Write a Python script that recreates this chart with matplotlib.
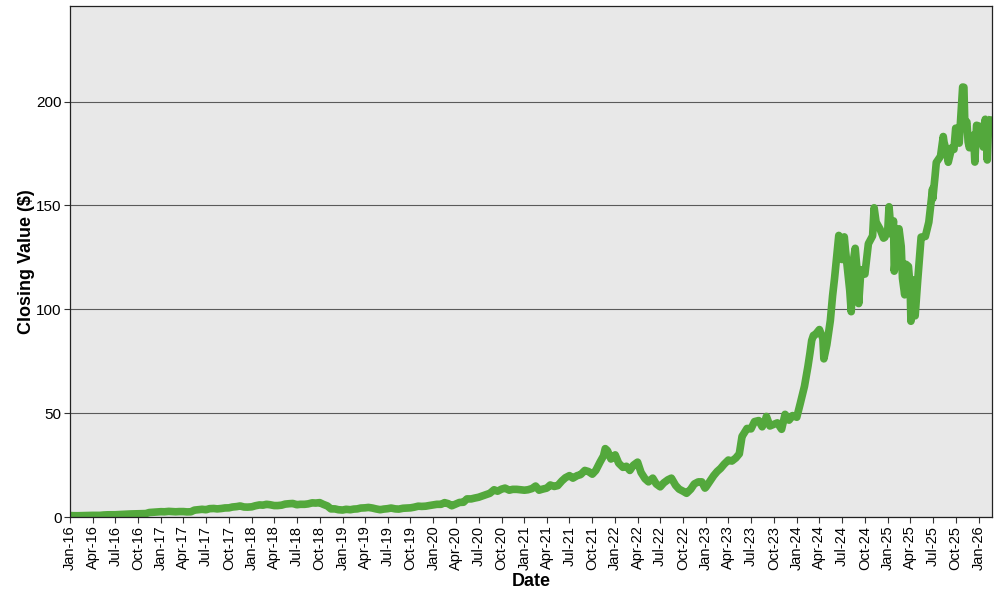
"""Closing value line chart, Jan 2016 - Feb 2026."""

import matplotlib

matplotlib.use("Agg")
import matplotlib.dates as mdates
import matplotlib.pyplot as plt
import pandas as pd

plt.rcParams["font.family"] = ["Liberation Sans", "DejaVu Sans"]

# semi-monthly closes (split adjusted), extra points in busy stretches
dates_2016_2020 = [
    "2016-01-01", "2016-01-15", "2016-02-01", "2016-02-15", "2016-03-01", "2016-03-15",
    "2016-04-01", "2016-04-15", "2016-05-01", "2016-05-15", "2016-06-01", "2016-06-15",
    "2016-07-01", "2016-07-15", "2016-08-01", "2016-08-15", "2016-09-01", "2016-09-15",
    "2016-10-01", "2016-10-15", "2016-11-01", "2016-11-15", "2016-12-01", "2016-12-15",
    "2017-01-01", "2017-01-15", "2017-02-01", "2017-02-15", "2017-03-01", "2017-03-15",
    "2017-04-01", "2017-04-15", "2017-05-01", "2017-05-15", "2017-06-01", "2017-06-15",
    "2017-07-01", "2017-07-15", "2017-08-01", "2017-08-15", "2017-09-01", "2017-09-15",
    "2017-10-01", "2017-10-15", "2017-11-01", "2017-11-15", "2017-12-01", "2017-12-15",
    "2018-01-01", "2018-01-15", "2018-02-01", "2018-02-15", "2018-03-01", "2018-03-15",
    "2018-04-01", "2018-04-15", "2018-05-01", "2018-05-15", "2018-06-01", "2018-06-15",
    "2018-07-01", "2018-07-15", "2018-08-01", "2018-08-15", "2018-09-01", "2018-09-15",
    "2018-10-01", "2018-10-15", "2018-11-01", "2018-11-15", "2018-12-01", "2018-12-15",
    "2019-01-01", "2019-01-15", "2019-02-01", "2019-02-15", "2019-03-01", "2019-03-15",
    "2019-04-01", "2019-04-15", "2019-05-01", "2019-05-15", "2019-06-01", "2019-06-15",
    "2019-07-01", "2019-07-15", "2019-08-01", "2019-08-15", "2019-09-01", "2019-09-15",
    "2019-10-01", "2019-10-15", "2019-11-01", "2019-11-15", "2019-12-01", "2019-12-15",
    "2020-01-01", "2020-01-15", "2020-02-01", "2020-02-15", "2020-03-01", "2020-03-15",
    "2020-04-01", "2020-04-15", "2020-05-01", "2020-05-15", "2020-06-01", "2020-06-15",
    "2020-07-01", "2020-07-15", "2020-08-01", "2020-08-15", "2020-09-01", "2020-09-15",
    "2020-10-01", "2020-10-15", "2020-11-01", "2020-11-15", "2020-12-01", "2020-12-15",
]
closes_2016_2020 = [
    0.80, 0.72, 0.70, 0.75, 0.82, 0.85, 0.88, 0.90, 0.88, 1.05, 1.15, 1.15,
    1.18, 1.27, 1.40, 1.45, 1.55, 1.60, 1.70, 1.68, 1.75, 2.25, 2.40, 2.55,
    2.65, 2.60, 2.80, 2.70, 2.60, 2.70, 2.70, 2.55, 2.60, 3.40, 3.60, 3.80,
    3.60, 4.10, 4.20, 4.00, 4.20, 4.45, 4.50, 4.90, 5.10, 5.40, 4.90, 4.85,
    5.00, 5.50, 5.90, 5.80, 6.20, 6.00, 5.60, 5.60, 5.80, 6.30, 6.50, 6.60,
    6.00, 6.20, 6.20, 6.40, 6.90, 6.80, 7.00, 6.20, 5.40, 4.00, 4.00, 3.60,
    3.45, 3.80, 3.60, 3.90, 4.00, 4.40, 4.50, 4.70, 4.40, 4.00, 3.60, 3.90,
    4.10, 4.40, 4.00, 3.90, 4.30, 4.40, 4.50, 4.80, 5.30, 5.20, 5.30, 5.60,
    5.90, 6.20, 6.20, 7.00, 6.50, 5.50, 6.40, 7.10, 7.20, 8.80, 8.80, 9.20,
    9.60, 10.2, 10.9, 11.5, 13.2, 12.5, 13.5, 14.0, 13.0, 13.4, 13.4, 13.2,
]

dates_2021_2023 = [
    "2021-01-01", "2021-01-15", "2021-02-01", "2021-02-15", "2021-03-01", "2021-03-15",
    "2021-04-01", "2021-04-15", "2021-05-01", "2021-05-15", "2021-06-01", "2021-06-15",
    "2021-07-01", "2021-07-15", "2021-08-01", "2021-08-15", "2021-09-01", "2021-09-15",
    "2021-10-01", "2021-10-15", "2021-11-01", "2021-11-15", "2021-11-22", "2021-12-01",
    "2021-12-15",
    "2022-01-01", "2022-01-15", "2022-02-01", "2022-02-15", "2022-03-01", "2022-03-15",
    "2022-04-01", "2022-04-15", "2022-05-01", "2022-05-15", "2022-06-01", "2022-06-15",
    "2022-07-01", "2022-07-15", "2022-08-01", "2022-08-15", "2022-09-01", "2022-09-15",
    "2022-10-01", "2022-10-15", "2022-11-01", "2022-11-15", "2022-12-01", "2022-12-15",
    "2022-12-28",
    "2023-01-01", "2023-01-15", "2023-02-01", "2023-02-15", "2023-03-01", "2023-03-15",
    "2023-04-01", "2023-04-15", "2023-05-01", "2023-05-15", "2023-05-26", "2023-06-01",
    "2023-06-15", "2023-07-01", "2023-07-15", "2023-08-01", "2023-08-15", "2023-08-28",
    "2023-09-01", "2023-09-15", "2023-10-01", "2023-10-15", "2023-11-01", "2023-11-15",
    "2023-12-01", "2023-12-15",
]
closes_2021_2023 = [
    13.0, 13.2, 13.8, 15.0, 13.0, 13.5, 14.0, 15.5, 14.8, 15.2, 17.5, 19.0,
    20.0, 18.8, 20.0, 20.5, 22.5, 22.0, 20.7, 22.5, 26.5, 29.5, 33.0, 32.0,
    28.0,
    30.0, 26.0, 24.0, 24.5, 22.5, 25.0, 26.5, 21.5, 18.5, 17.0, 18.8, 16.0,
    14.6, 16.5, 18.0, 18.8, 15.3, 13.5, 12.5, 11.5, 13.5, 16.0, 17.0, 17.0,
    14.0,
    14.5, 17.0, 20.0, 22.0, 23.5, 25.5, 27.5, 27.0, 28.5, 30.5, 38.9, 40.0,
    42.7, 42.5, 46.0, 46.5, 43.5, 46.8, 48.5, 43.9, 44.7, 45.4, 42.3, 49.5,
    46.7, 48.9,
]

dates_2024_2026 = [
    "2024-01-01", "2024-01-15", "2024-02-01", "2024-02-15", "2024-02-23", "2024-03-01",
    "2024-03-08", "2024-03-15", "2024-04-01", "2024-04-15", "2024-04-19", "2024-05-01",
    "2024-05-15", "2024-05-24", "2024-06-01", "2024-06-15", "2024-06-18", "2024-07-01",
    "2024-07-10", "2024-07-15", "2024-08-01", "2024-08-07", "2024-08-15", "2024-08-23",
    "2024-09-01", "2024-09-06", "2024-09-15", "2024-10-01", "2024-10-15", "2024-11-01",
    "2024-11-07", "2024-11-15", "2024-12-01", "2024-12-15", "2024-12-20",
    "2025-01-01", "2025-01-06", "2025-01-15", "2025-01-24", "2025-01-27", "2025-02-01",
    "2025-02-15", "2025-02-24", "2025-03-01", "2025-03-10", "2025-03-15", "2025-03-25",
    "2025-04-01", "2025-04-04", "2025-04-09", "2025-04-15", "2025-04-21", "2025-05-01",
    "2025-05-15", "2025-06-01", "2025-06-15", "2025-06-30", "2025-07-01", "2025-07-10",
    "2025-07-15", "2025-08-01", "2025-08-12", "2025-08-15", "2025-08-29", "2025-09-01",
    "2025-09-15", "2025-09-24", "2025-10-01", "2025-10-10", "2025-10-15", "2025-10-29",
    "2025-11-03", "2025-11-07", "2025-11-15", "2025-11-20", "2025-11-25", "2025-12-01",
    "2025-12-10", "2025-12-15", "2025-12-17", "2025-12-24",
    "2026-01-05", "2026-01-15", "2026-01-20", "2026-01-28", "2026-02-03", "2026-02-05",
    "2026-02-10", "2026-02-18", "2026-02-24",
]
closes_2024_2026 = [
    48.1, 54.7, 63.0, 72.6, 78.9, 85.0, 87.5, 87.8, 90.3, 86.0, 76.2, 83.0,
    94.6, 106.5, 115.0, 131.9, 135.6, 124.0, 134.9, 128.4, 109.2, 98.9, 122.9, 129.4,
    116.9, 102.8, 119.1, 117.0, 131.6, 135.4, 148.9, 142.0, 138.6, 134.3, 134.7,
    138.3, 149.4, 136.2, 142.6, 118.4, 124.6, 138.8, 130.3, 115.0, 107.0, 121.7, 120.7,
    110.4, 94.3, 114.3, 112.2, 96.9, 113.5, 134.8, 135.1, 142.0, 158.0, 153.3, 164.1,
    170.7, 173.7, 183.2, 180.5, 174.2, 170.8, 177.8, 177.0, 187.2, 183.2, 180.0, 207.0,
    206.9, 188.2, 190.2, 180.6, 177.8, 180.0, 183.8, 176.3, 170.9, 188.6,
    188.1, 187.1, 178.1, 191.5, 180.3, 171.9, 188.5, 187.9, 192.9,
]

y_ticks = [0, 50, 100, 150, 200]


def main() -> None:
    dates = pd.to_datetime(dates_2016_2020 + dates_2021_2023 + dates_2024_2026)
    closes = closes_2016_2020 + closes_2021_2023 + closes_2024_2026

    fig = plt.figure(figsize=(10, 6), dpi=100)
    ax = fig.add_axes([0.07, 0.138, 0.922, 0.852])
    ax.set_facecolor("#E8E8E8")
    ax.plot(dates, closes, color="#53A83C", linewidth=5.5,
            solid_joinstyle="round", solid_capstyle="butt")

    ax.set_xlim(pd.Timestamp("2016-01-01"), pd.Timestamp("2026-02-24"))
    ax.set_ylim(0, 246)
    ax.set_yticks(y_ticks)
    ax.yaxis.grid(True, color="#5A5A5A", linewidth=0.8)
    ax.set_axisbelow(True)

    ax.xaxis.set_major_locator(mdates.MonthLocator(bymonth=[1, 4, 7, 10]))
    ax.xaxis.set_major_formatter(mdates.DateFormatter("%b-%y"))
    plt.setp(ax.get_xticklabels(), rotation=90, ha="center", fontsize=10.5)
    plt.setp(ax.get_yticklabels(), fontsize=11)
    ax.tick_params(length=4, width=0.8, color="#333333", pad=2)

    for spine in ax.spines.values():
        spine.set_color("#222222")
        spine.set_linewidth(0.9)

    ax.set_xlabel("Date", fontsize=13, fontweight="bold", labelpad=2)
    ax.set_ylabel("Closing Value ($)", fontsize=13, fontweight="bold", labelpad=1)

    fig.savefig("out.png", dpi=100)
    plt.close(fig)


if __name__ == "__main__":
    main()
